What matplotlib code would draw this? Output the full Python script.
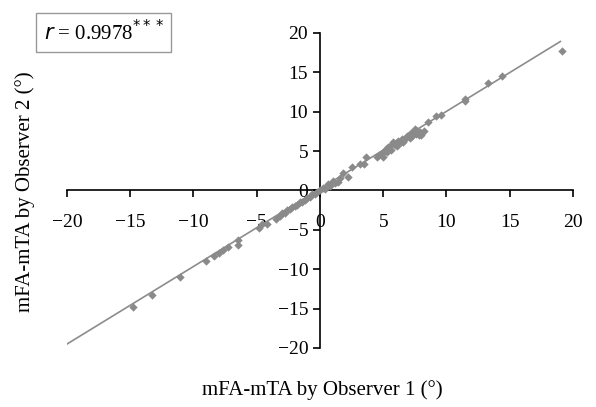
import matplotlib
matplotlib.use("Agg")
import matplotlib.pyplot as plt
import numpy as np

plt.rcParams['font.family'] = ['Liberation Serif', 'DejaVu Serif']

obs1 = [-14.8,-13.3,-11.1,-9.0,-8.4,-8.0,-7.7,-7.3,-6.5,-6.5,-4.8,-4.6,-4.2,-3.5,-3.2,-3.0,-2.8,-2.6,-2.4,-2.2,-2.0,-1.8,-1.6,-1.4,-1.2,-1.0,-0.8,-0.6,-0.4,-0.2,0.0,0.2,0.4,0.6,0.8,1.0,1.2,1.4,1.6,1.8,2.2,2.5,3.2,3.5,3.6,
        4.5,4.7,4.9,5.0,5.1,5.2,5.3,5.4,5.5,5.6,5.8,5.9,6.0,6.1,6.2,6.4,6.5,6.6,6.8,6.9,7.0,7.1,7.2,7.3,7.4,7.5,7.6,7.7,7.8,7.9,8.0,8.2,8.5,9.2,9.6,11.5,11.5,13.3,14.4,19.1]
obs2 = [-14.8,-13.3,-11.0,-9.0,-8.3,-8.0,-7.6,-7.2,-6.3,-6.9,-4.8,-4.3,-4.2,-3.6,-3.3,-2.9,-2.8,-2.5,-2.4,-2.1,-2.0,-1.8,-1.5,-1.4,-1.2,-0.9,-0.8,-0.5,-0.4,-0.2,0.1,0.3,0.2,0.8,0.6,1.2,0.9,1.1,1.6,2.2,1.7,3.0,3.4,3.3,4.2,
        4.2,4.5,4.8,4.3,5.0,5.3,4.9,5.5,5.6,5.2,6.2,5.8,6.0,5.7,6.3,6.1,6.5,6.2,6.6,6.9,7.0,6.7,7.3,6.9,7.5,7.8,7.2,7.6,7.0,7.4,7.1,7.5,8.7,9.5,9.6,11.6,11.3,13.6,14.5,17.7]
fit_x = [-20, 19]
slope, intercept = 0.985, 0.2

fig = plt.figure(figsize=(5.96, 4.07), dpi=100)
ax = fig.add_axes([0.1124, 0.145, 0.849, 0.774])
ax.set_xlim(-20, 20)
ax.set_ylim(-20, 20)
fx = np.array(fit_x)
ax.plot(fx, slope*fx + intercept, color='#8c8c8c', lw=1.2, zorder=2)
ax.scatter(obs1, obs2, marker='D', s=18, color='#8a8a8a', zorder=3, linewidths=0)

for s in ['top', 'right']:
    ax.spines[s].set_visible(False)
ax.spines['left'].set_position(('data', 0))
ax.spines['bottom'].set_position(('data', 0))
ax.spines['left'].set_linewidth(1.2)
ax.spines['bottom'].set_linewidth(1.2)
ax.set_xticks(range(-20, 21, 5))
ax.set_yticks(range(-20, 21, 5))
ax.tick_params(labelsize=14, length=5, width=1.2)
ax.set_xticklabels(['\u221220','\u221215','\u221210','\u22125','0','5','10','15','20'])
ax.set_yticklabels(['\u221220','\u221215','\u221210','\u22125','0','5','10','15','20'])
ax.xaxis.set_tick_params(pad=12)

fig.text(0.54, 0.03, 'mFA-mTA by Observer 1 (\u00b0)', ha='center', fontsize=15)
fig.text(0.025, 0.53, 'mFA-mTA by Observer 2 (\u00b0)', va='center', rotation=90, fontsize=15)
fig.text(0.073, 0.92, r'$r$ = 0.9978$^{***}$', fontsize=15, va='center',
         bbox=dict(boxstyle='square,pad=0.35', fc='white', ec='#999999', lw=1))

fig.savefig('out.png', dpi=100)
